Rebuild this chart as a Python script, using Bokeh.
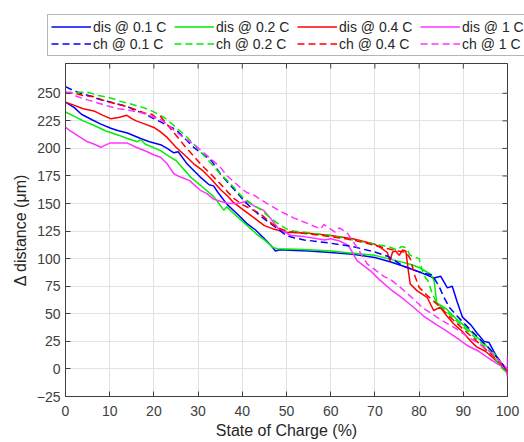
import math
from bokeh.plotting import figure
from bokeh.models import Legend, LegendItem, FixedTicker, Range1d
from bokeh.layouts import column
from bokeh.embed import file_html
from bokeh.resources import INLINE

# ---------------- data ----------------
x_ticks = list(range(0, 101, 10))
y_ticks = list(range(-25, 251, 25))
x_lim = (0, 100)
y_lim = (-25, 277)

dis01_soc = [0, 2, 3.6, 6, 8, 10.4, 12, 14, 17, 19, 21.7, 23, 24.5, 25.5, 27.5, 29, 30.5, 32.5, 33.5, 34.5, 36.6, 39, 41, 43, 44.8, 46.5, 47.5, 48.5, 52, 55, 60, 65, 70, 73.6, 77, 80, 83.4, 84.9, 86.4, 87.5, 88.6, 89.8, 91.7, 93, 94.7, 95.8, 97.7, 99.5, 100]
dis01_d = [242, 237, 231, 226, 222, 218, 216, 214, 209, 206, 203, 200, 196, 197, 186, 180, 174, 167, 166, 160, 149, 140, 132, 126, 119, 112, 107, 108, 107.5, 107, 105.5, 104, 101, 97, 92.5, 88, 82.5, 84, 73.5, 75, 61, 47, 40, 33, 25, 24, 10, 1, -3]

dis02_soc = [0, 2, 4, 6.4, 9, 12, 14, 16.2, 17, 18, 21.5, 23, 25, 27, 28.3, 31, 33.6, 35.8, 36.5, 37.5, 40, 43.3, 45, 47, 48, 52, 55, 60, 65, 70, 75, 78, 80, 82.6, 83.4, 84, 86, 88, 90, 92.5, 95, 97, 98.5, 100]
dis02_d = [233, 229, 225, 221, 216, 212, 209, 206, 208, 204, 198, 194, 189, 180, 174, 165, 156, 144, 147, 143, 134, 122, 117, 110, 109, 108.5, 108, 107, 105, 103, 98, 95, 92, 86, 80, 60, 55, 47, 40, 31, 22, 14, 6, -4]

dis04_soc = [0, 2, 4, 6.4, 8.5, 10.2, 12, 13.9, 15, 16, 18, 20, 21.5, 23, 25, 27.5, 29, 31, 33, 35, 36.6, 38, 40, 42, 45, 47, 50, 55, 60, 65, 70, 71.3, 72.8, 73.4, 74, 74.7, 75.5, 76.3, 77, 77.6, 78, 79.5, 81.8, 83.3, 84.8, 86.3, 87.8, 89.5, 91.6, 93, 95, 97, 99, 100]
dis04_d = [242, 239, 236, 234, 230, 227, 228, 230, 227, 225, 222, 219, 215, 210, 201, 192, 186, 180, 172, 163, 157, 151, 145, 139, 130, 127, 124, 123, 121, 118, 113, 110, 105.6, 98, 106, 107, 103, 108, 107, 88, 77, 71, 65, 53, 56, 48, 41, 35, 25.5, 20, 16, 9, 1, -3]

dis1_soc = [0, 1.1, 3, 5, 6.4, 8, 9, 10.2, 12, 13.9, 16, 18.5, 20, 21.5, 23, 24.5, 26, 28, 30.5, 32, 33.5, 35, 37, 39, 41, 43, 44.8, 46.5, 48, 51, 54, 57, 58.6, 60, 62, 64, 66, 69, 71, 73.6, 76.6, 79, 81, 84, 86, 88.6, 91, 93.5, 96, 98, 99.5, 100, 100]
dis1_d = [219, 216, 211, 206, 204, 201, 203, 205, 205, 205, 201, 197, 194, 192, 186, 177, 174, 171, 162, 159, 154, 152, 150, 150, 152, 147, 144, 136, 128, 121, 120, 118, 117, 118, 116, 112, 98, 89, 81, 72, 63, 55, 48, 40, 35, 28, 21, 16, 9, 4, 1, -7, 11]

ch01_soc = [0, 1.5, 3.4, 6, 8, 10.2, 12, 14, 16, 17.6, 19.5, 21.5, 23, 25, 27, 29, 31, 33, 35, 37, 39, 40.5, 42.6, 44, 46, 48, 50, 51.6, 54, 57, 60, 65, 70, 73, 76.5, 80, 83, 84.5, 85.6, 87, 88.6, 90.5, 92, 94, 96, 98, 100]
ch01_d = [256, 253, 250, 247, 244, 242, 240, 238, 234, 232, 228, 224, 221, 217, 209, 201, 195, 189, 177, 168, 159, 152, 144, 139, 133, 127, 121, 119, 117, 115.5, 114, 111, 106, 102, 93, 88, 85, 75, 65, 55, 48, 40, 34, 26, 18, 9, -2]

ch02_soc = [0, 2, 5, 7.5, 10, 13, 15, 17.6, 19.5, 21.5, 23, 25, 27, 29, 31, 33, 35, 36.6, 38, 40, 42, 44, 46, 48, 50, 51.6, 55, 60, 65, 70, 73, 75, 76, 77, 78, 80, 81, 82, 83, 84, 86, 88, 90, 92.5, 95, 97, 98.4, 100]
ch02_d = [250, 251, 251, 248, 246, 242, 240, 237, 234, 230, 226, 219, 212, 204, 195, 186, 177, 171, 165, 156, 150, 145, 138, 132, 127, 125, 123.5, 121, 117, 113, 111, 108, 111, 110, 103, 100, 85, 80, 68, 60, 53, 45, 38, 29, 20, 11, 2, -4]

ch04_soc = [0, 2, 4, 6.4, 9, 11, 13.9, 16, 18, 19.5, 20.5, 21.5, 22.5, 25, 27, 29, 31, 32.8, 34.5, 36.6, 38, 40, 42, 44, 46, 48, 50, 51.6, 55, 60, 65, 70, 73, 75, 77, 78, 79, 80, 82, 84, 85, 87, 90, 92.5, 95, 97.5, 100]
ch04_d = [251, 250, 248, 247, 243, 241, 238, 235, 232, 231, 228, 229, 224, 212, 202, 193, 184, 177, 170, 161, 155, 149, 145, 141, 134, 128, 125, 124, 122.5, 120, 117, 112, 109, 107, 106, 100, 85, 74, 66, 59, 55, 47, 36, 27, 18, 9, -2]

ch1_soc = [0, 1, 2.6, 5, 7.5, 10, 12, 14, 17.6, 19.5, 21.5, 23, 25, 27, 29, 31, 33, 35, 36.6, 38, 40, 41, 42.5, 44, 46, 48.6, 51.6, 54.7, 57.7, 58.5, 59.5, 61, 62, 63.8, 66, 68.3, 70, 72, 73.6, 75.9, 78, 81, 84, 86, 88.6, 91, 93.5, 96, 98, 100]
ch1_d = [250, 251, 247, 244, 241, 238, 236, 235, 232, 229, 226, 222, 215, 209, 204, 197, 190, 183, 175, 170, 163, 160, 158, 154, 149, 143, 137, 132, 127, 131, 128, 124, 128, 123, 110, 95, 90, 84, 81, 73.5, 66, 55, 47, 42, 36, 29, 23, 16, 8, 0]

series = [
    ("dis @ 0.1 C", dis01_soc, dis01_d, "#0000ff", "solid"),
    ("dis @ 0.2 C", dis02_soc, dis02_d, "#00ee00", "solid"),
    ("dis @ 0.4 C", dis04_soc, dis04_d, "#ff0000", "solid"),
    ("dis @ 1 C", dis1_soc, dis1_d, "#ff33ff", "solid"),
    ("ch @ 0.1 C", ch01_soc, ch01_d, "#0000ff", "7 4"),
    ("ch @ 0.2 C", ch02_soc, ch02_d, "#00ee00", "7 4"),
    ("ch @ 0.4 C", ch04_soc, ch04_d, "#ff0000", "7 4"),
    ("ch @ 1 C", ch1_soc, ch1_d, "#ff33ff", "7 4"),
]

# ---------------- layout constants ----------------
W = 524
LEG_H = 56
MAIN_H = 442 - LEG_H
ML, MR, MB = 65, 17, 46
FONT = "Liberation Sans"
AX = "#404040"
LW = 1.5

# ---------------- main figure ----------------
p = figure(width=W, height=MAIN_H, output_backend="svg", toolbar_location=None,
           x_range=Range1d(*x_lim), y_range=Range1d(*y_lim),
           min_border_left=ML, min_border_right=MR, min_border_top=7, min_border_bottom=MB,
           background_fill_color="white", border_fill_color="white")
p.outline_line_color = AX

for ax in (p.xaxis[0], p.yaxis[0]):
    ax.major_tick_in = 5
    ax.major_tick_out = 0
    ax.minor_tick_in = 0
    ax.minor_tick_out = 0
    ax.axis_line_color = AX
    ax.major_tick_line_color = AX
    ax.major_label_text_font = FONT
    ax.major_label_text_font_size = "14px"
    ax.major_label_text_color = "#404040"
    ax.axis_label_text_font = FONT
    ax.axis_label_text_font_size = "16px"
    ax.axis_label_text_font_style = "normal"
    ax.axis_label_text_color = "#262626"

p.xaxis.ticker = FixedTicker(ticks=x_ticks)
p.yaxis.ticker = FixedTicker(ticks=y_ticks)
p.xaxis.axis_label = "State of Charge (%)"
p.yaxis.axis_label = "Δ distance (μm)"
p.xaxis.major_label_standoff = 9
p.xaxis.axis_label_standoff = 3
p.yaxis.major_label_standoff = 5
p.yaxis.axis_label_standoff = 5

p.xgrid.ticker = FixedTicker(ticks=x_ticks)
p.ygrid.ticker = FixedTicker(ticks=y_ticks)
p.grid.grid_line_color = "#e2e2e2"
p.grid.grid_line_width = 1

# inward tick marks on the top and right edges of the box (outer half of each dash is clipped)
p.scatter(x=x_ticks, y=[y_lim[1]] * len(x_ticks), marker="dash", angle=math.pi / 2,
          size=10, line_color=AX, line_width=1)
p.scatter(x=[x_lim[1]] * len(y_ticks), y=y_ticks, marker="dash",
          size=10, line_color=AX, line_width=1)

for name, xs, ys, col, dash in series:
    p.line(xs, ys, line_color=col, line_width=LW, line_dash=dash)

# ---------------- legend strip above the axes ----------------
# The strip's y-range lies far above the data, so its copies of the lines stay out of view;
# they only supply the legend samples.
lf = figure(width=W, height=LEG_H, output_backend="svg", toolbar_location=None,
            x_axis_type=None, y_axis_type=None,
            x_range=Range1d(*x_lim), y_range=Range1d(1000, 1001),
            min_border=0, outline_line_color=None,
            background_fill_color="white", border_fill_color="white")
lf.grid.visible = False

# let the strip's frame cover its whole canvas instead of lining up with the main frame
aligned = True
if "frame_align" in lf.properties():
    lf.frame_align = False
    p.frame_align = False
    aligned = False

items = []
for name, xs, ys, col, dash in series:
    r = lf.line(xs, ys, line_color=col, line_width=LW, line_dash=dash)
    items.append(LegendItem(label=name, renderers=[r]))

leg_x = 47 - ML if aligned else 47
legend = Legend(items=items, location=(leg_x, 0), orientation="horizontal", ncols=4,
                glyph_width=40, glyph_height=17, label_height=17, label_width=81,
                label_standoff=2, spacing=0, padding=3, margin=0,
                label_text_font=FONT, label_text_font_size="14px", label_text_color="#262626",
                border_line_color="#6e6e6e", border_line_width=1,
                background_fill_color="white", background_fill_alpha=1.0)
lf.add_layout(legend)

layout = column(lf, p, spacing=0)
open("out.html", "w").write(file_html(layout, INLINE))
